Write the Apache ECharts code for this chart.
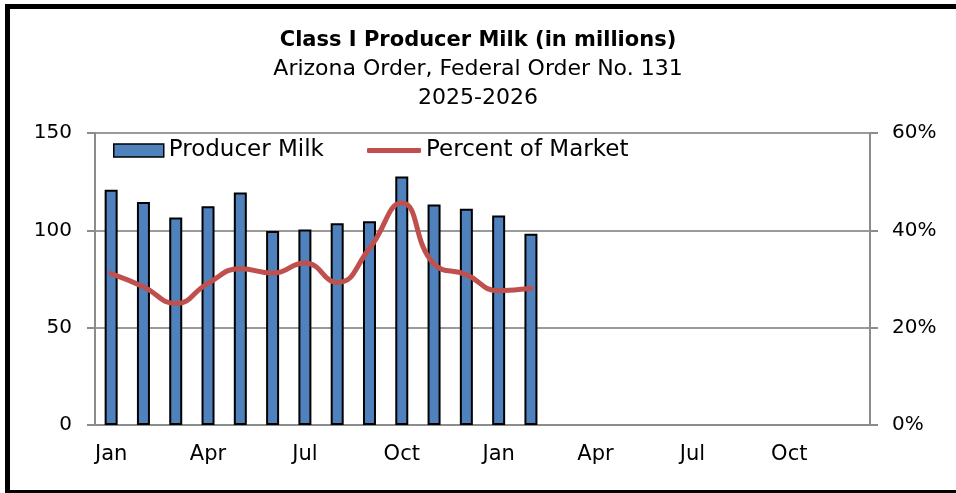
<!DOCTYPE html>
<html>
<head>
<meta charset="utf-8">
<script src="https://cdn.jsdelivr.net/npm/echarts@6/dist/echarts.min.js"></script>
<style>
  html, body { margin: 0; padding: 0; background: #fff; }
  #frame {
    position: absolute; left: 5px; top: 4px; width: 951px; height: 489px;
    border-left: 5px solid #000; border-top: 5px solid #000; border-bottom: 3px solid #000;
    box-sizing: border-box;
  }
  #chart { position: absolute; left: 0; top: 0; width: 956px; height: 493px; }
</style>
</head>
<body>
<div id="frame"></div>
<div id="chart"></div>
<script>
const months = ['Jan', 'Feb', 'Mar', 'Apr', 'May', 'Jun', 'Jul', 'Aug', 'Sep', 'Oct', 'Nov', 'Dec']
const years = ['2025', '2026']
const producerMilk = [120.8, 114.5, 106.6, 112.4, 119.4, 99.7, 100.4, 103.7, 104.7, 127.7, 113.3, 111.1, 107.6, 98.2]
const percentOfMarket = [31.1, 28.4, 25.0, 29.1, 32.1, 31.2, 33.3, 29.3, 36.3, 45.6, 33.1, 30.9, 27.6, 28.1]
const leftTicks = { min: 0, max: 150, interval: 50 }
const rightTicks = { min: 0, max: 60, interval: 20 }

const categories = []
years.forEach(y => months.forEach(m => categories.push(m + ' ' + y)))

const font = '"DejaVu Sans", sans-serif'
const axisGray = '#8c8c8c'

const chart = echarts.init(document.getElementById('chart'))
chart.setOption({
  backgroundColor: 'transparent',
  animation: false,
  textStyle: { fontFamily: font },
  title: {
    text: 'Class I Producer Milk (in millions)',
    subtext: 'Arizona Order, Federal Order No. 131\n2025-2026',
    left: 'center',
    top: 25,
    itemGap: 4,
    textStyle: { fontFamily: font, fontWeight: 'bold', fontSize: 21, color: '#000' },
    subtextStyle: { fontFamily: font, fontSize: 22, color: '#000', lineHeight: 29 }
  },
  legend: [
    {
      left: 113,
      top: 139,
      padding: 0,
      itemWidth: 50,
      itemHeight: 13,
      icon: 'rect',
      textStyle: { fontFamily: font, fontSize: 23, color: '#000' },
      data: [{ name: 'Producer Milk', itemStyle: { borderColor: '#000', borderWidth: 1.5 } }]
    },
    {
      left: 367,
      top: 139,
      padding: 0,
      itemWidth: 54,
      itemHeight: 5,
      icon: 'roundRect',
      textStyle: { fontFamily: font, fontSize: 23, color: '#000' },
      data: [{ name: 'Percent of Market', itemStyle: { color: '#C0504D' } }]
    }
  ],
  grid: { left: 95, right: 86, top: 133, bottom: 68, containLabel: false },
  xAxis: {
    type: 'category',
    data: categories,
    boundaryGap: true,
    axisLine: { lineStyle: { color: axisGray, width: 2 } },
    axisTick: { interval: 2, length: 6, lineStyle: { color: axisGray, width: 2 } },
    axisLabel: {
      interval: 2,
      margin: 19,
      fontSize: 21,
      color: '#000',
      fontFamily: font,
      formatter: v => v.split(' ')[0]
    }
  },
  yAxis: [
    {
      type: 'value',
      min: leftTicks.min, max: leftTicks.max, interval: leftTicks.interval,
      axisLine: { show: true, lineStyle: { color: axisGray, width: 2 } },
      axisTick: { show: true, length: 8, lineStyle: { color: axisGray, width: 2 } },
      axisLabel: { margin: 23, fontSize: 20, color: '#000', fontFamily: font },
      splitLine: { lineStyle: { color: '#9a9a9a', width: 2 } }
    },
    {
      type: 'value',
      min: rightTicks.min, max: rightTicks.max, interval: rightTicks.interval,
      position: 'right',
      axisLine: { show: true, lineStyle: { color: axisGray, width: 2 } },
      axisTick: { show: true, length: 8, lineStyle: { color: axisGray, width: 2 } },
      axisLabel: { margin: 22, fontSize: 20, color: '#000', fontFamily: font, formatter: '{value}%' },
      splitLine: { show: false }
    }
  ],
  series: [
    {
      name: 'Producer Milk',
      type: 'bar',
      data: producerMilk,
      barWidth: 13,
      itemStyle: { color: '#4F81BD', borderColor: '#000', borderWidth: 2 }
    },
    {
      name: 'Percent of Market',
      type: 'line',
      yAxisIndex: 1,
      data: percentOfMarket,
      smooth: 0.5,
      symbol: 'none',
      lineStyle: { color: '#C0504D', width: 5, cap: 'round' },
      itemStyle: { color: '#C0504D' },
      z: 3
    }
  ]
})
</script>
</body>
</html>
